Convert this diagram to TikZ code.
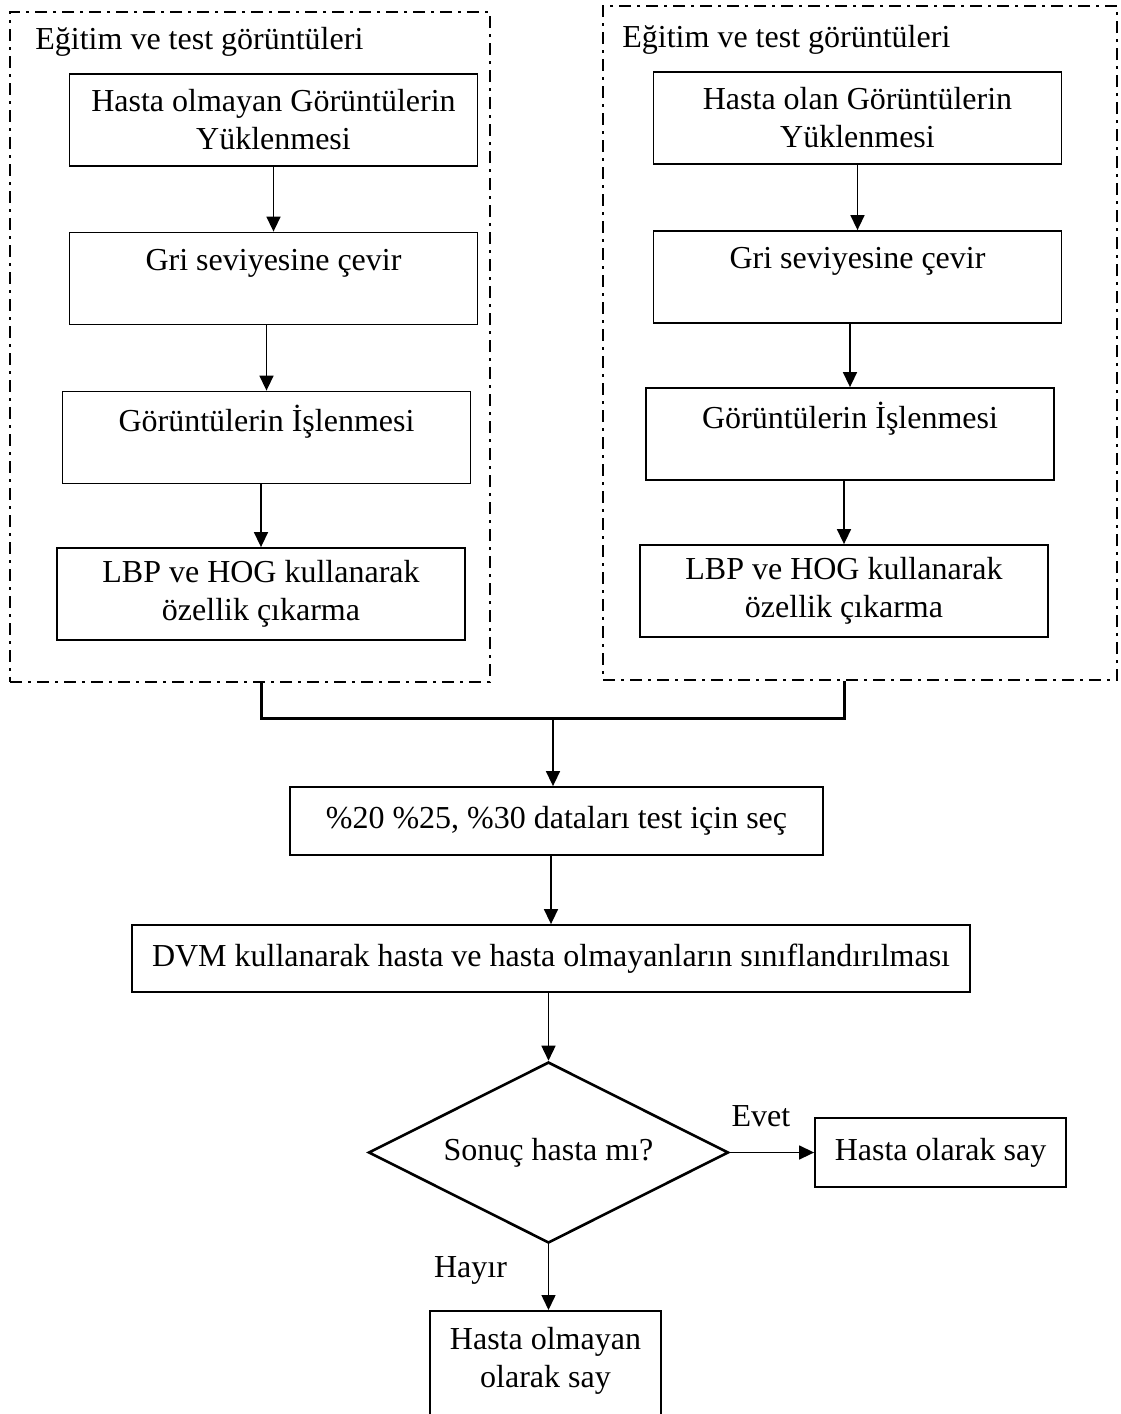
\documentclass[tikz,border=0pt]{standalone}
\usepackage{fontspec}
\setmainfont{Liberation Serif}
\usetikzlibrary{arrows.meta, shapes.geometric}
\tikzset{>={Triangle[length=7.5pt,width=7pt]}}
\tikzset{kutu/.style={draw, line width=0.9pt, minimum width=204pt, minimum height=46pt, align=center, inner sep=2pt},
	ustyazi/.style={text depth=19pt},
	grup/.style={draw, line width=1.3pt, dash pattern=on 6pt off 3pt on 1.5pt off 3pt, inner sep=0pt},
	ok/.style={->, line width=0.75pt}}

\begin{document}
\begin{tikzpicture}[x=0.5pt, y=-0.5pt, font=\fontsize{16}{19}\selectfont]
		\useasboundingbox (0,0) rectangle (1120,1414);
		% sol grup
		\node[grup, minimum width=240pt, minimum height=335pt] (solgrup) at (250,347) {};
		\node[anchor=west, inner sep=0pt] (solbaslik) at (35,42) {Eğitim ve test görüntüleri};
		\node[kutu] (s1) at (273.5,120) {Hasta olmayan Görüntülerin\\Yüklenmesi};
		\node[kutu, ustyazi] (s2) at (273.5,278.5) {Gri seviyesine çevir};
		\node[kutu, ustyazi] (s3) at (266.5,437.5) {Görüntülerin İşlenmesi};
		\node[kutu] (s4) at (261,594) {LBP ve HOG kullanarak\\özellik çıkarma};
		\draw[ok] (s1.south -| s2) -- (s2.north);
		\draw[ok] (s2.south -| s3) -- (s3.north);
		\draw[ok] (s3.south -| s4) -- (s4.north);
		% sag grup
		\node[grup, minimum width=257pt, minimum height=337pt] (saggrup) at (860,343) {};
		\node[anchor=west, inner sep=0pt] (sagbaslik) at (622,40) {Eğitim ve test görüntüleri};
		\node[kutu] (r1) at (857.5,118) {Hasta olan Görüntülerin\\Yüklenmesi};
		\node[kutu, ustyazi] (r2) at (857.5,277) {Gri seviyesine çevir};
		\node[kutu, ustyazi] (r3) at (850,434) {Görüntülerin İşlenmesi};
		\node[kutu] (r4) at (844,591) {LBP ve HOG kullanarak\\özellik çıkarma};
		\draw[ok] (r1.south -| r2) -- (r2.north);
		\draw[ok] (r2.south -| r3) -- (r3.north);
		\draw[ok] (r3.south -| r4) -- (r4.north);
		% birlesme
		\coordinate (birles) at (553,718);
		\draw[line width=1.5pt] (solgrup.south -| s4) |- (birles) -| (saggrup.south -| r4);
		\node[kutu, minimum width=266.5pt, minimum height=34pt] (secim) at (556.5,821) {\%20 \%25, \%30 dataları test için seç};
		\node[kutu, minimum width=419pt, minimum height=33.5pt] (dvm) at (551,958.5) {DVM kullanarak hasta ve hasta olmayanların sınıflandırılması};
		\node[diamond, draw, line width=1.3pt, shape aspect=2, minimum width=180pt, minimum height=90.5pt, inner sep=0pt] (karar) at (548.5,1152.5) {Sonuç hasta mı?};
		\node[kutu, minimum width=125.5pt, minimum height=34.5pt] (hasta) at (940.5,1152.5) {Hasta olarak say};
		\node[kutu, anchor=north, minimum width=115.5pt, minimum height=56pt, text depth=10pt] (degil) at (545.5,1310) {Hasta olmayan\\olarak say};
		\draw[ok] (birles) -- (birles |- secim.north);
		\draw[ok] (secim.south -| dvm) -- (dvm.north);
		\draw[ok] (dvm.south -| karar) -- (karar.north);
		\draw[ok] (karar.east) -- node[pos=0.37, yshift=18pt] (evet) {Evet} (hasta.west);
		\draw[ok] (karar.south) -- node[pos=0.4, xshift=-39pt] (hayir) {Hayır} (karar.south |- degil.north);
	\end{tikzpicture}
\end{document}
